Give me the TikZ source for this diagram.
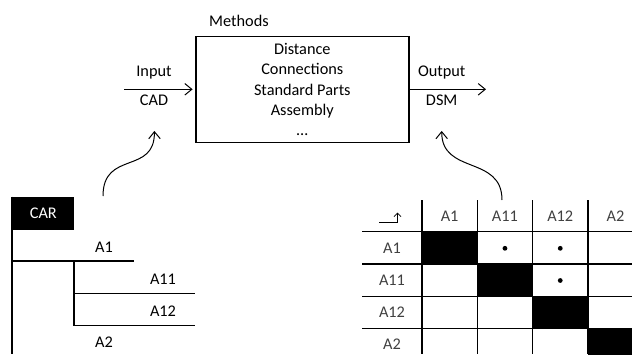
\documentclass[tikz,border=0pt]{standalone}
\usepackage{fontspec}
\setmainfont{Carlito}
\usetikzlibrary{arrows.meta,positioning}

\newcommand*{\colText}{black}
\newcommand*{\colMat}{black!75}
\newcommand*{\colCell}{black}
\newcommand*{\cellW}{55.3}
\newcommand*{\cellH}{32.2}
\newcommand*{\xLab}{362}
\newcommand*{\xMat}{422}
\newcommand*{\yHead}{200}
\newcommand*{\yMat}{231.7}
\newcommand*{\xEnd}{632}
\newcommand*{\yEnd}{354}

\tikzset{
  lbl/.style={font=\fontsize{16.3}{19}\selectfont, text=\colText, inner sep=0pt},
  mlbl/.style={lbl, text=\colMat},
  barb/.style={-{Straight Barb[length=7pt,width=11.5pt]}, line width=1pt},
}

\begin{document}
\begin{tikzpicture}[x=1pt,y=-1pt,line width=1.2pt]
    \useasboundingbox (0,0) rectangle (\xEnd,\yEnd);

    % methods block with input and output
    \node [draw, line width=1.6pt, minimum width=213pt, minimum height=106pt, align=center, lbl, font=\fontsize{16.3}{20.2}\selectfont] (methods) at (302.3,89.5) {Distance\\Connections\\Standard Parts\\Assembly\\…};
    \node [lbl] (methodsLbl) at (239,21) {Methods};

    \node [lbl] (input) at (154,72.7) {Input};
    \node [lbl] (cad) at (154,100) {CAD};
    \node [lbl] (output) at (441.7,72.7) {Output};
    \node [lbl] (dsm) at (441.7,100) {DSM};

    \coordinate (inStart) at (124,89.3);
    \coordinate (outEnd) at (486,89.3);
    \path [draw,barb,shorten >=2.4pt] (inStart) -- (methods.west |- inStart);
    \path [draw,barb] (methods.east |- outEnd) -- (outEnd);

    % product tree
    \node [fill=\colCell, text=white, lbl, minimum width=61.3pt, minimum height=32.7pt] (car) at (43.3,213.6) {\textcolor{white}{CAR}};
    \draw (car.north west) -- (car.west |- 0,\yEnd);
    \draw (car.west |- 0,261) -- (134,261);
    \draw (74,261) -- (74,325.7);
    \draw (74,293.7) -- (195,293.7);
    \draw (74,325.7) -- (195,325.7);
    \node [lbl] (a1) at (104,247) {A1};
    \node [lbl] (a11) at (163,279) {A11};
    \node [lbl] (a12) at (163,311) {A12};
    \node [lbl] (a2) at (104,342) {A2};

    % dsm matrix
    \begin{scope}
        \clip (0,0) rectangle (\xEnd,\yEnd);
        \foreach \i/\name in {1/A1,2/A11,3/A12,4/A2} {
            \node [mlbl] (col\i) at ({\xMat+\cellW*(\i-0.5)},{(\yHead+\yMat)/2}) {\name};
            \node [mlbl] (row\i) at ({(\xLab+\xMat)/2},{\yMat+\cellH*(\i-0.5)}) {\name};
            \fill [\colCell] ({\xMat+\cellW*(\i-1)},{\yMat+\cellH*(\i-1)}) rectangle ({\xMat+\cellW*\i},{\yMat+\cellH*\i});
            \draw (\xLab,{\yMat+\cellH*(\i-1)}) -- (\xEnd,{\yMat+\cellH*(\i-1)});
            \draw ({\xMat+\cellW*(\i-1)},\yHead) -- ({\xMat+\cellW*(\i-1)},\yEnd);
        }
        \foreach \r/\c in {1/2,1/3,2/3} {
            \fill ({\xMat+\cellW*(\c-0.5)},{\yMat+\cellH*(\r-0.5)+0.5}) circle (2.4pt);
        }
    \end{scope}
    \draw [-{Straight Barb[length=3.5pt,width=7pt]}, line width=0.8pt] (379,222.3) -- (397.5,222.3) -- (397.5,212.5);

    % links
    \coordinate (treeOut) at (103,196);
    \coordinate (matIn) at (502,200);
    \path [draw,barb,shorten >=25pt] (treeOut) .. controls (103,150) and (155,175) .. (cad.south);
    \path [draw,barb,shorten >=25pt] (matIn) .. controls (502,155) and (441.7,175) .. (dsm.south);

\end{tikzpicture}
\end{document}
